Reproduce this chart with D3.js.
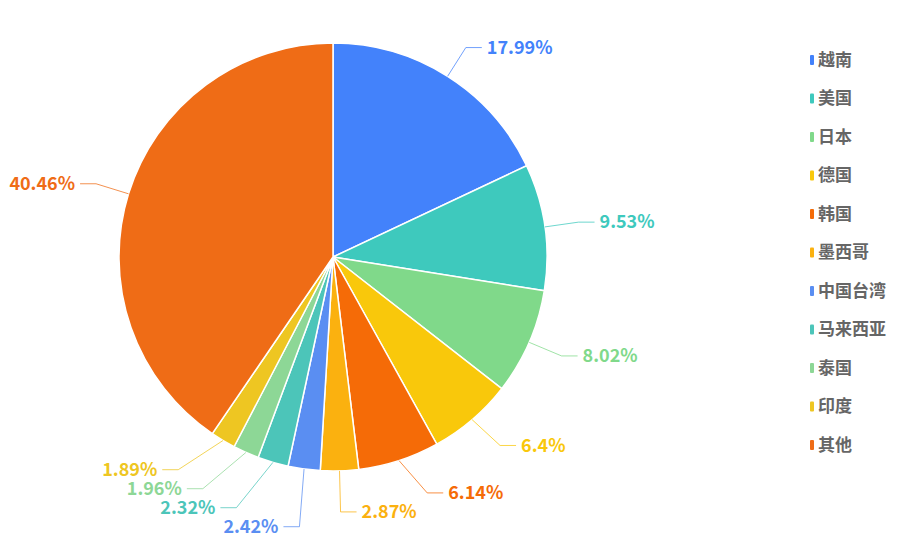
<!DOCTYPE html>
<html>
<head>
<meta charset="utf-8">
<script src="https://cdn.jsdelivr.net/npm/d3@7"></script>
<style>
  body { margin: 0; background: #fff; }
  svg { display: block; font-family: "Microsoft YaHei", "Noto Sans CJK SC", "Noto Sans", sans-serif; }
</style>
</head>
<body>
<div class="chart"></div>
<script>
// data (share in %)
var names = ["越南", "美国", "日本", "德国", "韩国", "墨西哥", "中国台湾", "马来西亚", "泰国", "印度", "其他"];
var values = [17.99, 9.53, 8.02, 6.4, 6.14, 2.87, 2.42, 2.32, 1.96, 1.89, 40.46];
var colors = ["#4382fb", "#3ec9bd", "#80d98a", "#f9c80b", "#f56b07", "#fbb10f",
              "#5a8ef2", "#4cc5b9", "#8dd796", "#eec622", "#ef6c16"];

var width = 903, height = 548;
var cx = 333, cy = 257, r = 214;
var len = 34, len2 = 16, dist = 5, lineH = 19;

var svg = d3.select(".chart")
    .append("svg")
    .attr("width", width)
    .attr("height", height);

var color = d3.scaleOrdinal().domain(names).range(colors);

var pie = d3.pie()
    .sort(null)
    .value(function(d, i) { return values[i]; });

var arcs = pie(names);
var arc = d3.arc().innerRadius(0).outerRadius(r);

var g = svg.append("g").attr("transform", "translate(" + cx + "," + cy + ")");

g.selectAll(".slice")
    .data(arcs)
    .enter().append("path")
    .attr("class", "slice")
    .attr("d", arc)
    .style("fill", function(d) { return color(d.data); })
    .style("stroke", "#fff")
    .style("stroke-width", 1.5);

// label positions, echarts style: radial segment, then horizontal, then text
var labels = arcs.map(function(d, i) {
    var mid = (d.startAngle + d.endAngle) / 2;
    var dx = Math.sin(mid), dy = -Math.cos(mid);
    var x1 = cx + r * dx, y1 = cy + r * dy;
    var x2 = x1 + len * dx, y2 = y1 + len * dy;
    return {
        name: d.data, value: values[i], dir: dx < 0 ? -1 : 1,
        x1: x1, y1: y1, ex: x2, ey: y2, ex0: x2
    };
});

function adjustSide(list) {
    if (list.length < 2) return;
    list.sort(function(a, b) { return a.ey - b.ey; });
    var lastBottom = -Infinity, adjusted = false;
    list.forEach(function(l) {
        var top = l.ey - lineH / 2;
        if (top < lastBottom) {
            l.ey += lastBottom - top;
            adjusted = true;
        }
        lastBottom = l.ey + lineH / 2;
    });
    if (!adjusted) return;
    // put the elbows back on an ellipse, one for each half
    var rA = r + len;
    [list.filter(function(l) { return l.ey <= cy; }),
     list.filter(function(l) { return l.ey > cy; })].forEach(function(semi) {
        var maxY = 0, rB = rA;
        semi.forEach(function(l) {
            var dy = Math.abs(l.ey - cy);
            if (dy >= maxY) {
                var dx = l.ex0 - cx;
                rB = Math.abs(dx) < rA ? Math.sqrt(dy * dy / (1 - dx * dx / rA / rA)) : rA;
                maxY = dy;
            }
        });
        semi.forEach(function(l) {
            var dy = Math.abs(l.ey - cy);
            var k = Math.max(0, 1 - dy * dy / (rB * rB));
            l.ex = cx + l.dir * Math.sqrt(k) * rA;
        });
    });
}

adjustSide(labels.filter(function(l) { return l.dir > 0; }));
adjustSide(labels.filter(function(l) { return l.dir < 0; }));

var line = d3.line();

svg.selectAll(".label-line")
    .data(labels)
    .enter().append("path")
    .attr("class", "label-line")
    .attr("d", function(l) {
        return line([[l.x1, l.y1], [l.ex, l.ey], [l.ex + l.dir * len2, l.ey]]);
    })
    .style("fill", "none")
    .style("stroke", function(l) { return color(l.name); })
    .style("stroke-width", 1)
    .style("opacity", 0.75);

svg.selectAll(".label")
    .data(labels)
    .enter().append("text")
    .attr("class", "label")
    .attr("x", function(l) { return l.ex + l.dir * (len2 + dist); })
    .attr("y", function(l) { return l.ey; })
    .attr("dy", "0.35em")
    .attr("text-anchor", function(l) { return l.dir > 0 ? "start" : "end"; })
    .style("font-size", "18px")
    .style("font-weight", "bold")
    .style("fill", function(l) { return color(l.name); })
    .text(function(l) { return l.value + "%"; });

// legend
var ly = d3.scalePoint().domain(names).range([60, 445]);

var legend = svg.selectAll(".legend")
    .data(names)
    .enter().append("g")
    .attr("class", "legend")
    .attr("transform", function(d) { return "translate(810," + ly(d) + ")"; });

legend.append("rect")
    .attr("x", 0)
    .attr("y", -5)
    .attr("width", 4)
    .attr("height", 10)
    .attr("rx", 1)
    .style("fill", function(d) { return color(d); });

legend.append("text")
    .attr("x", 8)
    .attr("y", 0)
    .attr("dy", "0.35em")
    .style("font-size", "17px")
    .style("font-weight", "bold")
    .style("fill", "#666")
    .text(function(d) { return d; });
</script>
</body>
</html>
